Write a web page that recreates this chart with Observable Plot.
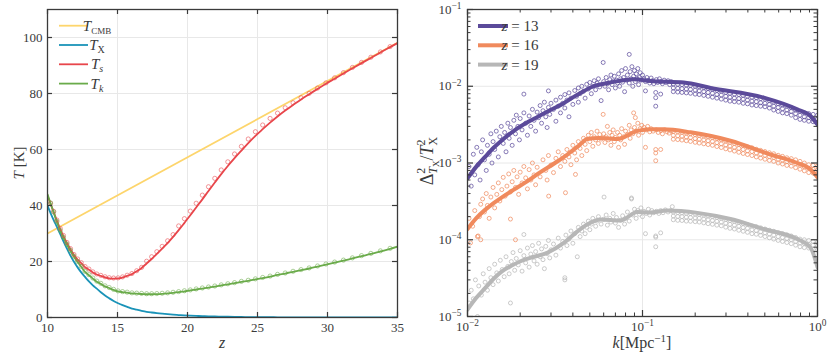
<!DOCTYPE html>
<html><head><meta charset="utf-8">
<script src="https://cdn.jsdelivr.net/npm/d3@7"></script>
<script src="https://cdn.jsdelivr.net/npm/@observablehq/plot@0.6"></script>
<style>
body{margin:0;background:#fff;}
#wrap{position:relative;width:830px;height:358px;overflow:hidden;background:#fff;}
#wrap svg{position:absolute;top:0;}
</style></head><body><div id="wrap"></div>
<script>
// ================= LEFT PANEL DATA =================
const zModel = [10.0,10.22,10.44,10.67,10.91,11.14,11.39,11.64,11.89,12.15,12.41,12.68,12.96,13.24,13.52,13.81,14.11,14.41,14.72,15.04,15.36,15.69,16.03,16.37,16.72,17.08,17.44,17.81,18.19,18.58,18.97,19.37,19.78,20.2,20.62,21.06,21.5,21.95,22.41,22.88,23.36,23.85,24.34,24.85,25.37,25.9,26.43,26.98,27.54,28.11,28.69,29.29,29.89,30.51,31.14,31.78,32.43,33.1,33.78,34.47,35.0];
const zCMB = [10, 35];
const tCMB = [30.0, 98.1];
const tX = [40,37.3,34.8,32.4,29.8,27.2,24.6,22.1,19.9,17.9,16.1,14.5,12.9,11.5,10.3,9.0,7.85,6.85,5.9,5.1,4.4,3.8,3.2,2.8,2.4,2.04,1.78,1.55,1.35,1.17,1.01,0.88,0.76,0.65,0.56,0.48,0.42,0.36,0.30,0.26,0.22,0.18,0.15,0.13,0.11,0.09,0.08,0.065,0.05,0.04,0.035,0.03,0.02,0.02,0.015,0.01,0.01,0.01,0.005,0.005,0];
const tS = [43.5,40.6,37.7,34.6,31.6,29.1,26.6,24.4,22.3,20.7,19.4,18.0,17.1,16.1,15.35,14.85,14.35,14.0,13.9,13.95,14.3,14.9,15.5,16.5,17.7,19.3,20.9,22.7,24.6,26.6,28.8,31.2,33.8,36.5,39.3,42.2,45.2,48.2,51.2,54.1,56.9,59.6,62.25,64.85,67.25,69.6,71.8,73.9,75.9,77.9,79.75,81.65,83.5,85.3,87.15,89.0,90.85,92.7,94.65,96.55,98.0];
const tK = [44,40.7,37.5,34.1,30.9,28.4,26.0,23.8,21.7,19.8,18.1,16.3,15.1,13.9,12.8,12.0,11.1,10.5,9.85,9.3,9.05,8.85,8.6,8.5,8.4,8.3,8.3,8.35,8.45,8.6,8.8,9.05,9.35,9.65,10.0,10.35,10.7,11.05,11.45,11.85,12.25,12.7,13.1,13.6,14.1,14.6,15.2,15.7,16.3,16.9,17.5,18.2,18.9,19.6,20.3,21.1,21.9,22.7,23.6,24.5,25.3];
const zSim = [10.22,10.44,10.67,10.91,11.14,11.39,11.64,11.89,12.15,12.41,12.68,12.96,13.24,13.52,13.81,14.11,14.41,14.72,15.04,15.36,15.69,16.03,16.37,16.72,17.08,17.44,17.81,18.19,18.58,18.97,19.37,19.78,20.2,20.62,21.06,21.5,21.95,22.41,22.88,23.36,23.85,24.34,24.85,25.37,25.9,26.43,26.98,27.54,28.11,28.69,29.29,29.89,30.51,31.14,31.78,32.43,33.1,33.78,34.47];
const tSsim = [40.8,37.9,34.8,31.8,29.3,26.8,24.6,22.5,20.9,19.6,18.2,17.3,16.3,15.55,15.05,14.55,14.2,14.1,14.15,14.5,15.1,15.7,16.7,17.9,20.1,21.7,23.5,25.4,27.4,29.6,32.7,35.3,38.0,40.8,43.7,46.7,49.7,52.7,55.6,58.4,61.1,63.75,66.35,68.75,71.1,73.0,74.9,76.7,78.5,80.05,81.95,83.8,85.6,87.45,89.3,91.1,92.95,94.85,96.75];
const tKsim = [40.9,37.7,34.3,31.1,28.6,26.2,24.0,21.9,20.0,18.3,16.5,15.3,14.1,13.0,12.2,11.3,10.7,10.05,9.5,9.25,9.05,8.8,8.7,8.6,8.5,8.5,8.55,8.65,8.8,9.0,9.25,9.55,9.85,10.2,10.55,10.9,11.25,11.65,12.05,12.45,12.9,13.3,13.8,14.3,14.8,15.4,15.9,16.5,17.1,17.7,18.4,19.1,19.8,20.5,21.3,22.1,22.9,23.8,24.7];
const zTicks = [10,15,20,25,30,35];
const tTicks = [0,20,40,60,80,100];

// ================= RIGHT PANEL DATA =================
const k13 = [0.01,0.0112,0.0126,0.0141,0.0158,0.0184,0.0224,0.0251,0.0298,0.0355,0.0398,0.0447,0.0525,0.0656,0.089,0.111,0.172,0.245,0.493,0.766,0.912,1.0];
const v13 = [6.3e-4,8.9e-4,1.2e-3,1.58e-3,2.0e-3,2.63e-3,3.47e-3,3.98e-3,4.9e-3,6.0e-3,7.1e-3,8.3e-3,1.0e-2,1.12e-2,1.23e-2,1.17e-2,1.12e-2,9.5e-3,7.1e-3,5.0e-3,4.1e-3,3.16e-3];
const k16 = [0.01,0.0112,0.0126,0.0141,0.0158,0.0184,0.0219,0.0261,0.0316,0.0372,0.043,0.0483,0.0562,0.0628,0.072,0.0933,0.111,0.132,0.188,0.318,0.538,0.766,0.912,1.0];
const v16 = [1.38e-4,1.9e-4,2.45e-4,3.0e-4,3.6e-4,4.5e-4,5.75e-4,7.6e-4,1.0e-3,1.29e-3,1.66e-3,2.05e-3,2.12e-3,2.1e-3,2.05e-3,2.62e-3,2.75e-3,2.75e-3,2.51e-3,1.95e-3,1.29e-3,1.0e-3,8.3e-4,6.5e-4];
const k19 = [0.01,0.0112,0.0126,0.0141,0.0158,0.0178,0.0201,0.024,0.0285,0.0355,0.042,0.0483,0.0575,0.0748,0.0933,0.111,0.138,0.206,0.318,0.493,0.766,0.912,1.0];
const v19 = [1.23e-5,1.74e-5,2.34e-5,3.1e-5,3.9e-5,4.57e-5,5.25e-5,6.0e-5,6.76e-5,9.1e-5,1.26e-4,1.58e-4,1.84e-4,1.78e-4,2.3e-4,2.26e-4,2.4e-4,2.24e-4,1.86e-4,1.38e-4,1.02e-4,7.9e-5,4.4e-5];

const scat13 = [[0.0102,9.0e-4],[0.0105,5.0e-4],[0.0108,1.3e-3],[0.011,7.0e-4],[0.0113,1.6e-3],[0.0115,9.5e-4],[0.0118,6.0e-4],[0.012,1.4e-3],[0.0122,2.0e-3],[0.0125,1.1e-3],[0.0128,8.0e-4],[0.013,1.7e-3],[0.0133,1.3e-3],[0.0136,2.4e-3],[0.0138,1.0e-3],[0.014,1.9e-3],[0.0143,1.5e-3],[0.0146,2.6e-3],[0.015,1.2e-3],[0.0153,2.2e-3],[0.0156,3.0e-3],[0.016,1.8e-3],[0.0163,2.5e-3],[0.0166,1.4e-3],[0.017,3.3e-3],[0.0173,2.1e-3],[0.0176,2.9e-3],[0.018,1.7e-3],[0.0184,3.6e-3],[0.0188,2.4e-3],[0.019,4.2e-3],[0.0194,3.0e-3],[0.0198,2.0e-3],[0.02,3.8e-3],[0.0205,2.7e-3],[0.021,7.9e-3],[0.021,4.5e-3],[0.0215,3.3e-3],[0.022,2.3e-3],[0.0225,4.1e-3],[0.023,3.0e-3],[0.0235,5.0e-3],[0.024,3.6e-3],[0.0245,2.6e-3],[0.025,4.6e-3],[0.0255,3.9e-3],[0.026,5.6e-3],[0.0265,3.3e-3],[0.027,4.8e-3],[0.0275,6.2e-3],[0.028,4.0e-3],[0.0285,2.9e-3],[0.029,8.7e-3],[0.029,5.3e-3],[0.0295,4.3e-3],[0.03,6.0e-3],[0.031,5.0e-3],[0.032,3.5e-3],[0.032,6.6e-3],[0.033,5.5e-3],[0.034,7.2e-3],[0.034,4.5e-3],[0.035,6.0e-3],[0.036,7.8e-3],[0.036,5.2e-3],[0.037,6.6e-3],[0.038,4.0e-3],[0.038,8.2e-3],[0.039,7.0e-3],[0.04,5.8e-3],[0.041,8.8e-3],[0.042,7.4e-3],[0.043,9.5e-3],[0.043,6.2e-3],[0.044,8.0e-3],[0.045,1.0e-2],[0.046,8.6e-3],[0.047,7.0e-3],[0.048,1.06e-2],[0.049,9.2e-3],[0.05,1.12e-2],[0.051,8.0e-3],[0.052,1.0e-2],[0.053,1.18e-2],[0.054,9.0e-3],[0.055,1.1e-2],[0.056,1.25e-2],[0.057,9.8e-3],[0.058,6.5e-3],[0.0596,2.04e-2],[0.06,1.15e-2],[0.061,1.0e-2],[0.062,1.3e-2],[0.063,1.08e-2],[0.064,9.0e-3],[0.065,1.22e-2],[0.066,1.4e-2],[0.067,1.05e-2],[0.068,1.17e-2],[0.069,1.35e-2],[0.07,9.5e-3],[0.071,1.2e-2],[0.072,1.1e-2],[0.073,1.45e-2],[0.074,1.0e-2],[0.075,1.25e-2],[0.076,1.6e-2],[0.077,1.13e-2],[0.078,1.3e-2],[0.079,8.5e-3],[0.08,1.7e-2],[0.081,1.2e-2],[0.082,1.4e-2],[0.084,2.6e-2],[0.084,1.1e-2],[0.085,1.55e-2],[0.086,1.25e-2],[0.087,1.8e-2],[0.088,1.0e-2],[0.089,1.35e-2],[0.09,1.6e-2],[0.091,1.15e-2],[0.092,1.45e-2],[0.093,1.25e-2],[0.094,1.7e-2],[0.095,1.05e-2],[0.096,1.3e-2],[0.097,1.5e-2],[0.098,1.2e-2],[0.1,1.4e-2],[0.102,1.25e-2],[0.104,8.7e-3],[0.104,1.15e-2],[0.106,1.3e-2],[0.108,1.2e-2],[0.11,1.1e-2],[0.112,1.28e-2],[0.114,1.18e-2],[0.116,1.08e-2],[0.119,8.3e-3],[0.119,7.1e-3],[0.119,5.5e-3],[0.12,1.22e-2],[0.122,1.12e-2],[0.125,1.25e-2],[0.127,7.9e-3],[0.127,1.15e-2],[0.13,1.08e-2],[0.133,1.2e-2],[0.136,1.12e-2],[0.14,1.18e-2],[0.143,1.05e-2],[0.146,1.15e-2]];

const scat16 = [[0.0102,1.9e-4],[0.0104,9.1e-5],[0.0107,1.5e-4],[0.011,2.4e-4],[0.0114,1.1e-4],[0.0115,1.12e-4],[0.0117,2.0e-4],[0.0119,2.9e-4],[0.0119,1.0e-4],[0.0122,3.4e-4],[0.0125,2.3e-4],[0.0128,4.0e-4],[0.013,2.8e-4],[0.0133,1.9e-4],[0.0136,3.6e-4],[0.014,4.8e-4],[0.0143,2.6e-4],[0.0147,3.9e-4],[0.015,5.5e-4],[0.0153,3.2e-4],[0.0157,4.5e-4],[0.016,6.5e-4],[0.0164,3.7e-4],[0.0168,5.0e-4],[0.0172,7.2e-4],[0.0176,1.86e-4],[0.0176,4.2e-4],[0.018,5.7e-4],[0.0184,8.0e-4],[0.0188,1.0e-4],[0.0188,4.8e-4],[0.0192,6.6e-4],[0.0196,3.9e-4],[0.02,7.6e-4],[0.0205,5.5e-4],[0.021,9.0e-4],[0.0215,6.4e-4],[0.022,4.6e-4],[0.0225,8.2e-4],[0.023,6.0e-4],[0.0235,1.0e-3],[0.024,7.0e-4],[0.0245,5.2e-4],[0.025,8.8e-4],[0.026,6.6e-4],[0.027,1.1e-3],[0.028,8.0e-4],[0.0285,6.0e-4],[0.0291,3.7e-4],[0.029,1.25e-3],[0.03,9.4e-4],[0.031,7.5e-4],[0.032,1.15e-3],[0.033,1.4e-3],[0.034,9.0e-4],[0.035,1.25e-3],[0.036,1.05e-3],[0.0363,4.1e-4],[0.037,1.5e-3],[0.038,1.2e-3],[0.039,9.5e-4],[0.04,1.7e-3],[0.0414,7.1e-4],[0.041,1.35e-3],[0.042,1.1e-3],[0.043,1.9e-3],[0.044,1.55e-3],[0.045,1.25e-3],[0.046,2.1e-3],[0.047,1.75e-3],[0.048,1.45e-3],[0.049,2.3e-3],[0.05,1.9e-3],[0.051,2.5e-3],[0.052,1.65e-3],[0.053,2.2e-3],[0.054,2.0e-3],[0.055,2.6e-3],[0.056,1.8e-3],[0.057,2.35e-3],[0.058,2.05e-3],[0.0596,4.3e-3],[0.06,2.4e-3],[0.061,1.85e-3],[0.062,2.2e-3],[0.063,3.0e-3],[0.064,2.0e-3],[0.065,2.5e-3],[0.066,1.7e-3],[0.067,2.3e-3],[0.068,2.7e-3],[0.069,1.9e-3],[0.07,2.15e-3],[0.072,2.5e-3],[0.073,1.6e-3],[0.074,2.3e-3],[0.075,2.0e-3],[0.076,2.8e-3],[0.078,2.2e-3],[0.079,1.75e-3],[0.08,2.6e-3],[0.082,2.35e-3],[0.084,3.1e-3],[0.085,2.1e-3],[0.086,2.7e-3],[0.088,2.4e-3],[0.089,4.5e-3],[0.09,2.9e-3],[0.091,3.9e-3],[0.092,2.6e-3],[0.094,3.3e-3],[0.095,2.3e-3],[0.097,2.8e-3],[0.099,3.1e-3],[0.1,2.5e-3],[0.102,2.9e-3],[0.104,1.6e-3],[0.105,2.7e-3],[0.107,3.0e-3],[0.11,2.55e-3],[0.112,2.8e-3],[0.115,2.6e-3],[0.119,1.5e-3],[0.119,1.35e-3],[0.119,1.07e-3],[0.12,2.7e-3],[0.123,2.5e-3],[0.127,1.5e-3],[0.127,2.65e-3],[0.13,2.4e-3],[0.134,2.7e-3],[0.138,2.55e-3],[0.142,2.45e-3],[0.146,2.6e-3]];

const scat19 = [[0.0102,1.5e-5],[0.0105,2.2e-5],[0.0108,1.7e-5],[0.0111,3.0e-5],[0.0114,1.0e-5],[0.0116,2.5e-5],[0.012,1.9e-5],[0.0123,3.6e-5],[0.0126,2.8e-5],[0.013,2.2e-5],[0.0133,4.2e-5],[0.0136,3.2e-5],[0.014,2.6e-5],[0.0143,4.8e-5],[0.0147,3.7e-5],[0.015,2.9e-5],[0.0154,5.4e-5],[0.0158,4.1e-5],[0.0162,3.3e-5],[0.0166,6.0e-5],[0.017,4.5e-5],[0.0173,3.6e-5],[0.0176,1.5e-5],[0.0178,5.2e-5],[0.0182,6.8e-5],[0.0186,4.0e-5],[0.019,5.7e-5],[0.0195,4.7e-5],[0.02,7.2e-5],[0.0205,3.9e-5],[0.021,1.17e-4],[0.021,6.2e-5],[0.0215,5.0e-5],[0.022,7.8e-5],[0.0225,4.4e-5],[0.023,6.5e-5],[0.0235,8.4e-5],[0.024,5.3e-5],[0.0245,7.0e-5],[0.025,4.8e-5],[0.0255,9.0e-5],[0.026,6.0e-5],[0.0265,7.6e-5],[0.027,5.5e-5],[0.0275,4.2e-5],[0.028,8.2e-5],[0.0285,6.6e-5],[0.029,9.8e-5],[0.0295,5.8e-5],[0.03,7.4e-5],[0.031,8.8e-5],[0.032,6.3e-5],[0.033,1.05e-4],[0.034,7.8e-5],[0.035,9.5e-5],[0.036,3.2e-5],[0.036,3.0e-5],[0.0365,1.15e-4],[0.037,8.4e-5],[0.038,1.02e-4],[0.039,1.3e-4],[0.04,9.0e-5],[0.041,1.2e-4],[0.0424,6.0e-5],[0.043,1.45e-4],[0.044,1.1e-4],[0.045,1.3e-4],[0.046,1.6e-4],[0.047,1.2e-4],[0.048,1.45e-4],[0.049,1.75e-4],[0.05,1.35e-4],[0.051,1.6e-4],[0.052,1.9e-4],[0.054,1.5e-4],[0.055,1.75e-4],[0.056,2.0e-4],[0.058,1.6e-4],[0.0603,3.6e-4],[0.06,1.85e-4],[0.062,2.1e-4],[0.063,1.55e-4],[0.065,1.9e-4],[0.066,1.7e-4],[0.068,2.2e-4],[0.07,1.65e-4],[0.071,1.95e-4],[0.073,1.45e-4],[0.075,1.8e-4],[0.077,2.05e-4],[0.079,1.6e-4],[0.08,1.9e-4],[0.082,2.3e-4],[0.084,1.75e-4],[0.0865,3.4e-4],[0.0865,3.5e-4],[0.088,2.1e-4],[0.09,2.5e-4],[0.092,1.9e-4],[0.094,2.4e-4],[0.096,2.15e-4],[0.098,2.6e-4],[0.1,2.0e-4],[0.102,2.35e-4],[0.104,1.2e-4],[0.105,2.2e-4],[0.108,2.5e-4],[0.11,2.1e-4],[0.113,2.4e-4],[0.116,2.25e-4],[0.119,1.12e-4],[0.119,1.08e-4],[0.119,8.1e-5],[0.12,2.35e-4],[0.124,2.2e-4],[0.127,1.23e-4],[0.127,2.4e-4],[0.131,2.25e-4],[0.135,2.45e-4],[0.14,2.3e-4],[0.145,2.4e-4],[0.148,2.7e-4]];

const bandK = [0.15,0.159,0.168,0.178,0.188,0.2,0.211,0.224,0.237,0.251,0.266,0.282,0.299,0.316,0.335,0.355,0.376,0.398,0.422,0.447,0.473,0.501,0.531,0.562,0.596,0.631,0.668,0.708,0.75,0.794,0.841,0.891,0.944,1.0];
const band13a = [1.07e-2,1.06e-2,1.05e-2,1.035e-2,1.02e-2,1.0e-2,9.8e-3,9.55e-3,9.3e-3,9.1e-3,8.8e-3,8.6e-3,8.3e-3,8.1e-3,7.9e-3,7.8e-3,7.6e-3,7.4e-3,7.2e-3,7.1e-3,6.9e-3,6.8e-3,6.5e-3,6.2e-3,5.9e-3,5.7e-3,5.5e-3,5.25e-3,4.9e-3,4.7e-3,4.5e-3,4.4e-3,4.3e-3,4.2e-3];
const band13b = [9.5e-3,9.4e-3,9.3e-3,9.2e-3,9.1e-3,8.9e-3,8.7e-3,8.5e-3,8.3e-3,8.1e-3,7.8e-3,7.7e-3,7.4e-3,7.2e-3,7.0e-3,6.9e-3,6.8e-3,6.6e-3,6.4e-3,6.3e-3,6.1e-3,6.0e-3,5.8e-3,5.5e-3,5.3e-3,5.1e-3,4.9e-3,4.7e-3,4.4e-3,4.2e-3,4.0e-3,3.9e-3,3.8e-3,3.75e-3];
const band13c = [8.5e-3,8.4e-3,8.3e-3,8.2e-3,8.1e-3,7.9e-3,7.8e-3,7.6e-3,7.4e-3,7.2e-3,7.0e-3,6.8e-3,6.6e-3,6.4e-3,6.3e-3,6.2e-3,6.0e-3,5.9e-3,5.7e-3,5.6e-3,5.5e-3,5.4e-3,5.2e-3,4.9e-3,4.7e-3,4.5e-3,4.4e-3,4.2e-3,3.9e-3,3.7e-3,3.6e-3,3.5e-3,3.45e-3,3.4e-3];
const band16a = [2.57e-3,2.54e-3,2.51e-3,2.45e-3,2.4e-3,2.34e-3,2.29e-3,2.24e-3,2.19e-3,2.14e-3,2.07e-3,2.0e-3,1.93e-3,1.86e-3,1.8e-3,1.74e-3,1.68e-3,1.62e-3,1.58e-3,1.51e-3,1.46e-3,1.41e-3,1.36e-3,1.32e-3,1.26e-3,1.22e-3,1.17e-3,1.14e-3,1.1e-3,1.05e-3,1.0e-3,9.5e-4,9.3e-4,9.1e-4];
const band16b = [2.29e-3,2.26e-3,2.24e-3,2.18e-3,2.14e-3,2.08e-3,2.04e-3,2.0e-3,1.95e-3,1.91e-3,1.84e-3,1.78e-3,1.72e-3,1.66e-3,1.6e-3,1.55e-3,1.5e-3,1.44e-3,1.41e-3,1.35e-3,1.3e-3,1.26e-3,1.21e-3,1.18e-3,1.12e-3,1.09e-3,1.04e-3,1.02e-3,9.8e-4,9.4e-4,8.9e-4,8.5e-4,8.3e-4,8.1e-4];
const band16c = [2.04e-3,2.02e-3,1.99e-3,1.95e-3,1.91e-3,1.86e-3,1.82e-3,1.78e-3,1.74e-3,1.7e-3,1.64e-3,1.59e-3,1.53e-3,1.48e-3,1.43e-3,1.38e-3,1.33e-3,1.29e-3,1.25e-3,1.2e-3,1.16e-3,1.12e-3,1.08e-3,1.05e-3,1.0e-3,9.7e-4,9.3e-4,9.1e-4,8.7e-4,8.3e-4,7.9e-4,7.5e-4,7.4e-4,7.2e-4];
const band19a = [2.29e-4,2.26e-4,2.24e-4,2.21e-4,2.19e-4,2.16e-4,2.14e-4,2.09e-4,2.04e-4,2.0e-4,1.95e-4,1.91e-4,1.84e-4,1.78e-4,1.74e-4,1.68e-4,1.62e-4,1.58e-4,1.51e-4,1.48e-4,1.43e-4,1.38e-4,1.33e-4,1.29e-4,1.24e-4,1.2e-4,1.16e-4,1.12e-4,1.07e-4,1.02e-4,1.0e-4,9.8e-5,9.5e-5,9.3e-5];
const band19b = [2.04e-4,2.01e-4,2.0e-4,1.97e-4,1.95e-4,1.92e-4,1.91e-4,1.86e-4,1.82e-4,1.78e-4,1.74e-4,1.7e-4,1.64e-4,1.59e-4,1.55e-4,1.5e-4,1.44e-4,1.41e-4,1.35e-4,1.32e-4,1.27e-4,1.23e-4,1.19e-4,1.15e-4,1.1e-4,1.07e-4,1.03e-4,1.0e-4,9.5e-5,9.1e-5,8.9e-5,8.7e-5,8.5e-5,8.3e-5];
const band19c = [1.82e-4,1.79e-4,1.78e-4,1.75e-4,1.74e-4,1.72e-4,1.7e-4,1.66e-4,1.62e-4,1.59e-4,1.55e-4,1.52e-4,1.46e-4,1.41e-4,1.38e-4,1.33e-4,1.29e-4,1.25e-4,1.2e-4,1.18e-4,1.14e-4,1.1e-4,1.06e-4,1.02e-4,9.8e-5,9.5e-5,9.2e-5,8.9e-5,8.5e-5,8.1e-5,7.9e-5,7.8e-5,7.5e-5,7.4e-5];
const kTickExp = ["−2","−1","0"];
const vTickExp = ["−5","−4","−3","−2","−1"];
const rightSeries = ["13","16","19"];

// ================= STYLE =================
const FONT = "'Liberation Serif', 'DejaVu Serif', serif";
const AX = "#3a3a3a";
const GRID = "#e8e8e8";
const cCMB = "#fdd56c", cX = "#1a93b8", cS = "#e8464b", cK = "#6aab4a";
const c13 = "#5b4a9a", c16 = "#f08a5d", c19 = "#b7b7b7";

function rich(sel, parts){
  parts.forEach(p => {
    const ts = sel.append("tspan").text(p.t);
    if (p.i) ts.attr("font-style", "italic");
    if (p.s) ts.attr("font-size", p.s);
    if (p.dy) ts.attr("dy", p.dy);
    if (p.dx) ts.attr("dx", p.dx);
  });
}

// ================= LEFT PLOT =================
const L = {w:420, h:358, ml:47, mr:23, mt:9, mb:41};
const LH = L.h - L.mt - L.mb, LW = L.w - L.ml - L.mr;
const rows = (xs, ys) => xs.map((x, i) => ({x, y: ys[i]}));
const tickLen = 5;

const left = Plot.plot({
  width: L.w, height: L.h, marginLeft: L.ml, marginRight: L.mr, marginTop: L.mt, marginBottom: L.mb,
  style: {fontFamily: FONT, fontSize: "13px", color: AX, background: "transparent"},
  x: {domain: [10, 35]},
  y: {domain: [0, 110]},
  marks: [
    Plot.gridX(zTicks, {stroke: GRID, strokeOpacity: 1}),
    Plot.gridY(tTicks, {stroke: GRID, strokeOpacity: 1}),
    Plot.line(rows(zCMB, tCMB), {x: "x", y: "y", stroke: cCMB, strokeWidth: 1.8, clip: true}),
    Plot.line(rows(zModel, tX), {x: "x", y: "y", stroke: cX, strokeWidth: 1.8, curve: "monotone-x", clip: true}),
    Plot.line(rows(zModel, tS), {x: "x", y: "y", stroke: cS, strokeWidth: 1.8, curve: "monotone-x", clip: true}),
    Plot.line(rows(zModel, tK), {x: "x", y: "y", stroke: cK, strokeWidth: 1.8, curve: "monotone-x", clip: true}),
    Plot.dot(rows(zSim, tSsim), {x: "x", y: "y", r: 2.1, stroke: cS, strokeOpacity: 0.7, strokeWidth: 0.8, clip: true}),
    Plot.dot(rows(zSim, tKsim), {x: "x", y: "y", r: 2.1, stroke: cK, strokeOpacity: 0.7, strokeWidth: 0.8, clip: true}),
    Plot.frame({stroke: AX, strokeWidth: 1.3}),
    Plot.tickX(zTicks, {x: d => d, insetTop: LH - tickLen, stroke: AX, strokeWidth: 1.2}),
    Plot.tickX(zTicks, {x: d => d, insetBottom: LH - tickLen, stroke: AX, strokeWidth: 1.2}),
    Plot.tickY(tTicks, {y: d => d, insetRight: LW - tickLen, stroke: AX, strokeWidth: 1.2}),
    Plot.tickY(tTicks, {y: d => d, insetLeft: LW - tickLen, stroke: AX, strokeWidth: 1.2}),
    Plot.axisX(zTicks, {tickSize: 0, tickPadding: 5, label: null, fill: AX}),
    Plot.axisY(tTicks, {tickSize: 0, tickPadding: 5, label: null, fill: AX})
  ]
});
left.style.left = "0px";
document.getElementById("wrap").appendChild(left);

{
  const s = d3.select(left);
  const leg = [
    {c: cCMB, parts: [{t:"T", i:1}, {t:"CMB", s:9, dy:3}]},
    {c: cX, parts: [{t:"T", i:1}, {t:"X", s:10, dy:3}]},
    {c: cS, parts: [{t:"T", i:1}, {t:"s", i:1, s:10, dy:3}]},
    {c: cK, parts: [{t:"T", i:1}, {t:"k", i:1, s:10, dy:3}]}
  ];
  leg.forEach((d, i) => {
    const y = 25.7 + i * 19.3;
    s.append("line").attr("x1", 59).attr("x2", 88).attr("y1", y).attr("y2", y)
      .attr("stroke", d.c).attr("stroke-width", 1.8);
    const t = s.append("text").attr("x", 97).attr("y", y + 5)
      .attr("font-size", 15).attr("fill", AX).attr("font-family", FONT);
    rich(t, d.parts);
  });
  const yl = s.append("text").attr("transform", "translate(24,163) rotate(-90)")
    .attr("text-anchor", "middle").attr("font-size", 15).attr("fill", AX).attr("font-family", FONT);
  rich(yl, [{t:"T", i:1}, {t:" [K]"}]);
  const xl = s.append("text").attr("x", 222).attr("y", 348)
    .attr("text-anchor", "middle").attr("font-size", 16).attr("fill", AX).attr("font-family", FONT);
  rich(xl, [{t:"z", i:1}]);
}

// ================= RIGHT PLOT =================
const R = {w:430, h:358, ml:67, mr:13, mt:9, mb:42, off:400};
const RH = R.h - R.mt - R.mb, RW = R.w - R.ml - R.mr;
const isMajor = d => Math.abs(Math.log10(d) - Math.round(Math.log10(d))) < 1e-6;
const kAll = d3.scaleLog().domain([0.01, 1]).ticks();
const vAll = d3.scaleLog().domain([1e-5, 1e-1]).ticks();
const kMajor = kAll.filter(isMajor), kMinor = kAll.filter(d => !isMajor(d));
const vMajor = vAll.filter(isMajor), vMinor = vAll.filter(d => !isMajor(d));
const pairs = a => a.map(p => ({x: p[0], y: p[1]}));
const kFmt = d => "10^" + kTickExp[kMajor.indexOf(d)];
const vFmt = d => "10^" + vTickExp[vMajor.indexOf(d)];
const dotOpt = c => ({x: "x", y: "y", r: 2, stroke: c, strokeWidth: 0.8, strokeOpacity: 0.9, clip: true});
const majLen = 6, minLen = 3.5;

const right = Plot.plot({
  width: R.w, height: R.h, marginLeft: R.ml, marginRight: R.mr, marginTop: R.mt, marginBottom: R.mb,
  style: {fontFamily: FONT, fontSize: "13px", color: AX, background: "transparent"},
  x: {type: "log", domain: [0.01, 1]},
  y: {type: "log", domain: [1e-5, 1e-1]},
  marks: [
    Plot.gridX(kMajor, {stroke: GRID, strokeOpacity: 1}),
    Plot.gridY(vMajor, {stroke: GRID, strokeOpacity: 1}),
    Plot.dot(pairs(scat19), dotOpt(c19)),
    Plot.dot(rows(bandK, band19a), dotOpt(c19)),
    Plot.dot(rows(bandK, band19b), dotOpt(c19)),
    Plot.dot(rows(bandK, band19c), dotOpt(c19)),
    Plot.dot(pairs(scat16), dotOpt(c16)),
    Plot.dot(rows(bandK, band16a), dotOpt(c16)),
    Plot.dot(rows(bandK, band16b), dotOpt(c16)),
    Plot.dot(rows(bandK, band16c), dotOpt(c16)),
    Plot.dot(pairs(scat13), dotOpt(c13)),
    Plot.dot(rows(bandK, band13a), dotOpt(c13)),
    Plot.dot(rows(bandK, band13b), dotOpt(c13)),
    Plot.dot(rows(bandK, band13c), dotOpt(c13)),
    Plot.line(rows(k19, v19), {x: "x", y: "y", stroke: c19, strokeWidth: 4, curve: "monotone-x", clip: true}),
    Plot.line(rows(k16, v16), {x: "x", y: "y", stroke: c16, strokeWidth: 4, curve: "monotone-x", clip: true}),
    Plot.line(rows(k13, v13), {x: "x", y: "y", stroke: c13, strokeWidth: 4, curve: "monotone-x", clip: true}),
    Plot.frame({stroke: AX, strokeWidth: 1.3}),
    Plot.tickX(kMajor, {x: d => d, insetTop: RH - majLen, stroke: AX, strokeWidth: 1.2}),
    Plot.tickX(kMajor, {x: d => d, insetBottom: RH - majLen, stroke: AX, strokeWidth: 1.2}),
    Plot.tickX(kMinor, {x: d => d, insetTop: RH - minLen, stroke: AX, strokeWidth: 1}),
    Plot.tickX(kMinor, {x: d => d, insetBottom: RH - minLen, stroke: AX, strokeWidth: 1}),
    Plot.tickY(vMajor, {y: d => d, insetRight: RW - majLen, stroke: AX, strokeWidth: 1.2}),
    Plot.tickY(vMajor, {y: d => d, insetLeft: RW - majLen, stroke: AX, strokeWidth: 1.2}),
    Plot.tickY(vMinor, {y: d => d, insetRight: RW - minLen, stroke: AX, strokeWidth: 1}),
    Plot.tickY(vMinor, {y: d => d, insetLeft: RW - minLen, stroke: AX, strokeWidth: 1}),
    Plot.axisX(kMajor, {tickSize: 0, tickPadding: 5, label: null, tickFormat: kFmt, fill: AX}),
    Plot.axisY(vMajor, {tickSize: 0, tickPadding: 6, label: null, tickFormat: vFmt, fill: AX})
  ]
});
right.style.left = R.off + "px";
document.getElementById("wrap").appendChild(right);

{
  const s = d3.select(right);
  s.selectAll('g[aria-label$="tick label"] text').each(function(){
    const m = this.textContent.match(/^10\^(.*)$/);
    if (m) {
      this.textContent = "10";
      d3.select(this).append("tspan").attr("dy", "-0.5em").attr("font-size", "0.72em").text(m[1]);
    }
  });
  const cols = [c13, c16, c19];
  rightSeries.forEach((z, i) => {
    const y = 26 + i * 19.3;
    s.append("line").attr("x1", 78).attr("x2", 108).attr("y1", y).attr("y2", y)
      .attr("stroke", cols[i]).attr("stroke-width", 4);
    const t = s.append("text").attr("x", 120).attr("y", y + 5)
      .attr("font-size", 15).attr("fill", AX).attr("font-family", FONT);
    rich(t, [{t:"z", i:1}, {t:" = " + z}]);
  });
  const yl = s.append("text").attr("transform", "translate(33,161) rotate(-90)")
    .attr("text-anchor", "middle").attr("font-size", 18).attr("fill", AX).attr("font-family", FONT);
  rich(yl, [{t:"Δ"}, {t:"2", s:12, dy:-8}, {t:"T", i:1, s:12, dx:-6, dy:12}, {t:"X", s:9, dy:2},
            {t:"/", dy:-6}, {t:"T", i:1}, {t:"2", s:12, dy:-8}, {t:"X", s:12, dx:-6, dy:12}]);
  const xl = s.append("text").attr("x", 242).attr("y", 348)
    .attr("text-anchor", "middle").attr("font-size", 16).attr("fill", AX).attr("font-family", FONT);
  rich(xl, [{t:"k", i:1}, {t:"[Mpc"}, {t:"−1", s:11, dy:-6}, {t:"]", dy:6}]);
}
</script></body></html>
